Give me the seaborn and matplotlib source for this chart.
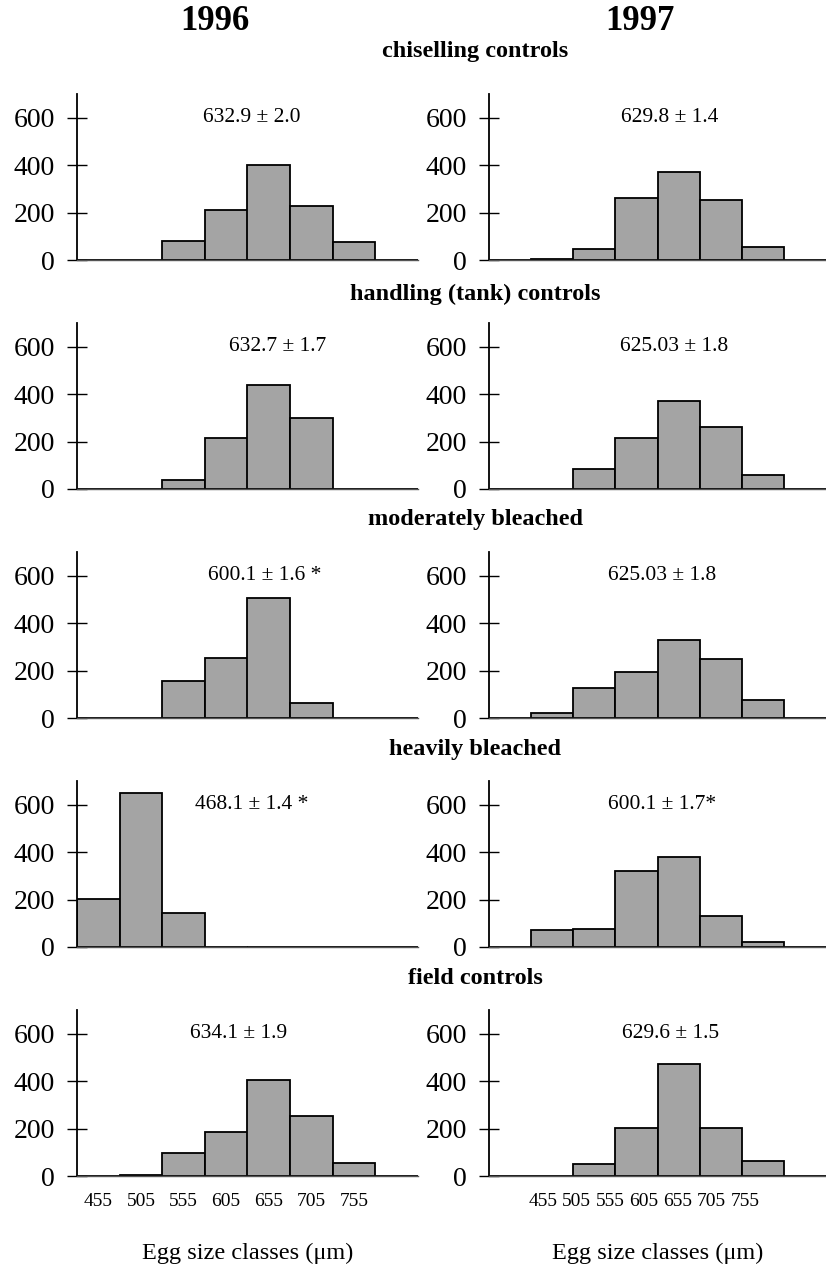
import matplotlib
matplotlib.use("Agg")
import matplotlib.pyplot as plt
import seaborn as sns
import pandas as pd

# egg size classes (um); the last slot of each axis stays empty
size_classes = ["455", "505", "555", "605", "655", "705", "755", "805"]
tick_labels = ["455", "505", "555", "605", "655", "705", "755"]
years = ["1996", "1997"]
treatments = ["chiselling controls", "handling (tank) controls",
              "moderately bleached", "heavily bleached", "field controls"]

# number of eggs per size class
chisel_1996 = [0, 2, 80, 210, 400, 228, 75, 0]
chisel_1997 = [0, 3, 47, 263, 373, 252, 55, 0]
handling_1996 = [0, 1, 37, 213, 440, 298, 1, 0]
handling_1997 = [0, 0, 85, 214, 369, 261, 57, 0]
moderate_1996 = [0, 0, 155, 254, 508, 64, 0, 0]
moderate_1997 = [0, 22, 125, 193, 330, 247, 77, 0]
heavy_1996 = [203, 648, 145, 0, 0, 0, 0, 0]
heavy_1997 = [2, 70, 77, 319, 380, 129, 19, 0]
field_1996 = [0, 3, 99, 184, 403, 251, 56, 0]
field_1997 = [0, 1, 52, 204, 472, 204, 62, 0]

means_1996 = ["632.9 \u00b1 2.0", "632.7 \u00b1 1.7", "600.1 \u00b1 1.6 *",
              "468.1 \u00b1 1.4 *", "634.1 \u00b1 1.9"]
means_1997 = ["629.8 \u00b1 1.4", "625.03 \u00b1 1.8", "625.03 \u00b1 1.8",
              "600.1 \u00b1 1.7*", "629.6 \u00b1 1.5"]

counts = [
    [chisel_1996, chisel_1997],
    [handling_1996, handling_1997],
    [moderate_1996, moderate_1997],
    [heavy_1996, heavy_1997],
    [field_1996, field_1997],
]
means = [means_1996, means_1997]

sns.set_theme(style="white", rc={"text.color": "black", "axes.labelcolor": "black",
                                 "xtick.color": "black", "ytick.color": "black"})
plt.rcParams["font.family"] = ["Liberation Serif", "DejaVu Serif"]

W, H = 826, 1280
fig = plt.figure(figsize=(W / 100, H / 100), dpi=100)

col_left = [77, 489]
col_width = [341, 337]
baselines = [260, 489, 718, 947, 1176]
title_y = [52, 294, 519, 750, 978]
text_x = [[3.6, 3.8], [4.2, 3.9], [3.9, 3.6], [3.6, 3.6], [3.3, 3.8]]
# the 1997 size labels are set closer together in the original
xtick_pos = [[0, 1, 2, 3, 4, 5, 6],
             [0.78, 1.58, 2.38, 3.18, 3.98, 4.78, 5.58]]
axis_h = 166

for r in range(5):
    for c in range(2):
        ax = fig.add_axes([col_left[c] / W, 1 - baselines[r] / H,
                           col_width[c] / W, axis_h / H])
        df = pd.DataFrame({"size": size_classes, "n": counts[r][c]})
        sns.barplot(data=df, x="size", y="n", order=size_classes,
                    color="#a4a4a4", edgecolor="black", linewidth=1.3,
                    width=1.0, saturation=1, ax=ax)
        ax.set_xlim(-0.5, 7.5)
        ax.set_ylim(0, 700)
        ax.set_yticks([0, 200, 400, 600])
        ax.set_xlabel("")
        ax.set_ylabel("")
        ax.tick_params(axis="y", direction="inout", length=14, width=1,
                       labelsize=20, pad=9, left=True)
        if r == 4:
            ax.set_xticks(xtick_pos[c])
            ax.set_xticklabels(tick_labels)
            ax.tick_params(axis="x", length=0, labelsize=14, pad=12)
            ax.set_xlabel("Egg size classes (\u03bcm)", fontsize=17.5, labelpad=24)
        else:
            ax.set_xticks([])
        for s in ["top", "right"]:
            ax.spines[s].set_visible(False)
        ax.spines["left"].set_color("black")
        ax.spines["left"].set_linewidth(1.3)
        ax.spines["bottom"].set_color("#555555")
        ax.spines["bottom"].set_linewidth(1.0)
        ax.patch.set_alpha(0)
        ax.text(text_x[r][c], 600, means[c][r], ha="center", va="center",
                fontsize=15.5)
    fig.text(475 / W, 1 - title_y[r] / H, treatments[r], ha="center",
             va="center", fontsize=17.5, fontweight="bold")

fig.text(215 / W, 1 - 22 / H, years[0], ha="center", va="center",
         fontsize=25, fontweight="bold")
fig.text(640 / W, 1 - 22 / H, years[1], ha="center", va="center",
         fontsize=25, fontweight="bold")

fig.savefig("out.png", dpi=100)
